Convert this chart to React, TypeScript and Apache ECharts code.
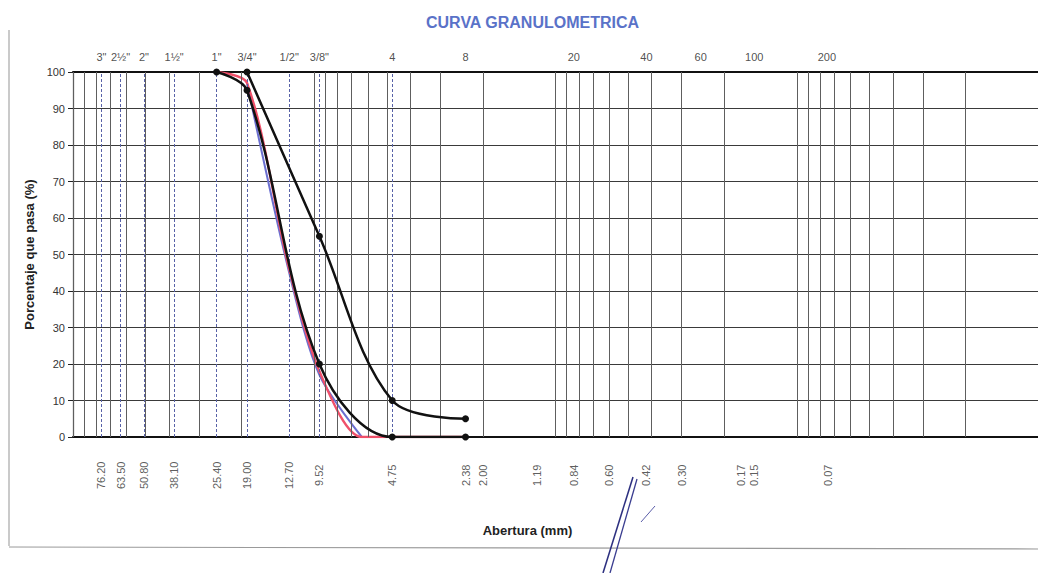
import React, { useEffect, useRef } from "react";
import * as echarts from "echarts";

// Sieve designations shown above the chart and their openings (mm)
const topSieveLabels = ['3"', '2½"', '2"', '1½"', '1"', '3/4"', '1/2"', '3/8"', "4", "8", "20", "40", "60", "100", "200"];
const topSieveSizes = [76.2, 63.5, 50.8, 38.1, 25.4, 19.0, 12.7, 9.52, 4.75, 2.36, 0.84, 0.42, 0.25, 0.15, 0.075];

// Opening values printed below the chart
const openingLabels = ["76.20", "63.50", "50.80", "38.10", "25.40", "19.00", "12.70", "9.52", "4.75", "2.38", "2.00", "1.19", "0.84", "0.60", "0.42", "0.30", "0.17", "0.15", "0.07"];
const openingSizes = [76.2, 63.5, 50.8, 38.1, 25.4, 19.0, 12.7, 9.52, 4.75, 2.36, 2.0, 1.19, 0.84, 0.6, 0.42, 0.3, 0.17, 0.15, 0.074];

// Dashed reference lines for the coarse sieves
const dashedSieveSizes = [76.2, 63.5, 50.8, 38.1, 25.4, 19.0, 12.7, 9.52, 4.75];

// Log paper grid
const logMantissas = [1, 2, 3, 4, 5, 6, 7, 8, 9];
const logDecades = [0.01, 0.1, 1, 10];

// Curves: [opening mm, % passing]
const upperLimit = [[19.0, 100], [9.52, 55], [4.75, 10], [2.36, 5]];
const lowerLimit = [[25.4, 100], [19.0, 95], [9.52, 20], [4.75, 0], [2.36, 0]];
const sampleRed = [[25.4, 100], [19.0, 97], [12.7, 46], [9.52, 18], [6.35, 0], [4.75, 0], [2.36, 0]];
const sampleBlue = [[19.0, 97], [12.7, 45], [9.52, 17], [6.35, 0]];

const NARROW = "'Liberation Sans Narrow', 'Liberation Sans', Arial, sans-serif";
const SANS = "'Liberation Sans', Arial, sans-serif";

export default function App() {
  const ref = useRef<HTMLDivElement>(null);

  useEffect(() => {
    document.body.style.margin = "0";
    if (!ref.current) return;
    const chart = echarts.init(ref.current, undefined, { renderer: "svg" });

    const gridValues: number[] = [];
    logDecades.forEach((d) => logMantissas.forEach((m) => gridValues.push(parseFloat((m * d).toPrecision(3)))));
    gridValues.push(100);

    const option: any = {
      animation: false,
      backgroundColor: "#ffffff",
      title: {
        text: "CURVA GRANULOMETRICA",
        left: 421,
        top: 9,
        textStyle: { color: "#5a72c8", fontSize: 16, fontWeight: "bold", fontFamily: NARROW },
      },
      grid: { left: 73, right: 0, top: 72, bottom: 136 },
      xAxis: [
        {
          type: "log",
          logBase: 10,
          min: 0.01,
          max: 100,
          inverse: true,
          position: "bottom",
          name: "Abertura (mm)",
          nameLocation: "middle",
          nameGap: 87,
          nameTextStyle: { fontFamily: NARROW, fontSize: 13, fontWeight: "bold", color: "#222", padding: [0, 56, 0, 0] },
          axisLine: { show: true, lineStyle: { color: "#111", width: 2 } },
          axisTick: { show: false },
          axisLabel: { show: false },
          splitLine: { show: false },
          minorSplitLine: { show: false },
        },
        {
          type: "log",
          logBase: 10,
          min: 0.01,
          max: 100,
          inverse: true,
          position: "top",
          axisLine: { show: true, lineStyle: { color: "#111", width: 2 } },
          axisTick: { show: false },
          axisLabel: { show: false },
          splitLine: { show: false },
        },
      ],
      yAxis: {
        type: "value",
        min: 0,
        max: 100,
        interval: 10,
        name: "Porcentaje que pasa (%)",
        nameLocation: "middle",
        nameGap: 36,
        nameTextStyle: { fontFamily: SANS, fontSize: 13, fontWeight: "bold", color: "#222" },
        axisLine: { show: true, lineStyle: { color: "#222", width: 1.2 } },
        axisTick: { show: true, length: 5, lineStyle: { color: "#222" } },
        axisLabel: { fontFamily: SANS, fontSize: 11, color: "#333", margin: 8 },
        splitLine: { show: true, lineStyle: { color: "#3a3a3a", width: 1.2 } },
      },
      series: [
        {
          type: "line",
          data: [],
          silent: true,
          markLine: {
            silent: true,
            symbol: "none",
            label: { show: false },
            lineStyle: { color: "#5e5e5e", width: 1, type: "solid" },
            data: gridValues.map((v) => ({ xAxis: v })),
          },
        },
        {
          type: "line",
          data: [],
          silent: true,
          markLine: {
            silent: true,
            symbol: "none",
            label: { show: false },
            lineStyle: { color: "#5862a8", width: 1, type: [3, 2] },
            data: dashedSieveSizes.map((v) => ({ xAxis: v })),
          },
        },
        {
          name: "blue",
          type: "line",
          smooth: 0.3,
          showSymbol: false,
          data: sampleBlue,
          lineStyle: { color: "#6b6fd0", width: 2 },
          z: 3,
        },
        {
          name: "red",
          type: "line",
          smooth: 0.3,
          showSymbol: false,
          data: sampleRed,
          lineStyle: { color: "#f0506a", width: 2.4 },
          z: 4,
        },
        {
          name: "lower",
          type: "line",
          smooth: 0.35,
          symbol: "circle",
          symbolSize: 7,
          data: lowerLimit,
          lineStyle: { color: "#111", width: 2.5 },
          itemStyle: { color: "#111" },
          z: 5,
        },
        {
          name: "upper",
          type: "line",
          smooth: 0.35,
          symbol: "circle",
          symbolSize: 7,
          data: upperLimit,
          lineStyle: { color: "#111", width: 2.5 },
          itemStyle: { color: "#111" },
          z: 5,
        },
        {
          type: "scatter",
          clip: false,
          silent: true,
          symbolSize: 1,
          itemStyle: { color: "rgba(0,0,0,0)" },
          data: topSieveSizes.map((s, i) => ({ name: topSieveLabels[i], value: [s, 104] })),
          label: {
            show: true,
            position: "inside",
            formatter: (p: any) => p.name,
            fontFamily: SANS,
            fontSize: 11,
            color: "#222",
          },
          z: 6,
        },
        {
          type: "scatter",
          clip: false,
          silent: true,
          symbolSize: 1,
          itemStyle: { color: "rgba(0,0,0,0)" },
          data: openingSizes.map((s, i) => ({ name: openingLabels[i], value: [s, -10.5] })),
          label: {
            show: true,
            position: "inside",
            rotate: 90,
            formatter: (p: any) => p.name,
            fontFamily: SANS,
            fontSize: 11,
            color: "#333",
          },
          z: 6,
        },
      ],
      graphic: [
        { type: "line", shape: { x1: 9, y1: 30, x2: 9, y2: 546 }, style: { stroke: "#b8b8b8", lineWidth: 1.5 } },
        { type: "line", shape: { x1: 9, y1: 547, x2: 1038, y2: 549 }, style: { stroke: "#9a9a9a", lineWidth: 1.2 } },
        { type: "line", z: 20, shape: { x1: 633, y1: 477, x2: 603, y2: 573 }, style: { stroke: "#2d3080", lineWidth: 1.5 } },
        { type: "line", z: 20, shape: { x1: 637, y1: 479, x2: 610, y2: 573 }, style: { stroke: "#3a3d90", lineWidth: 1.3 } },
        { type: "line", z: 20, shape: { x1: 641, y1: 522, x2: 655, y2: 506 }, style: { stroke: "#5a5da8", lineWidth: 1 } },
      ],
    };

    chart.setOption(option);
    return () => chart.dispose();
  }, []);

  return <div ref={ref} style={{ position: "absolute", left: 0, top: 0, width: 1038, height: 573 }} />;
}
